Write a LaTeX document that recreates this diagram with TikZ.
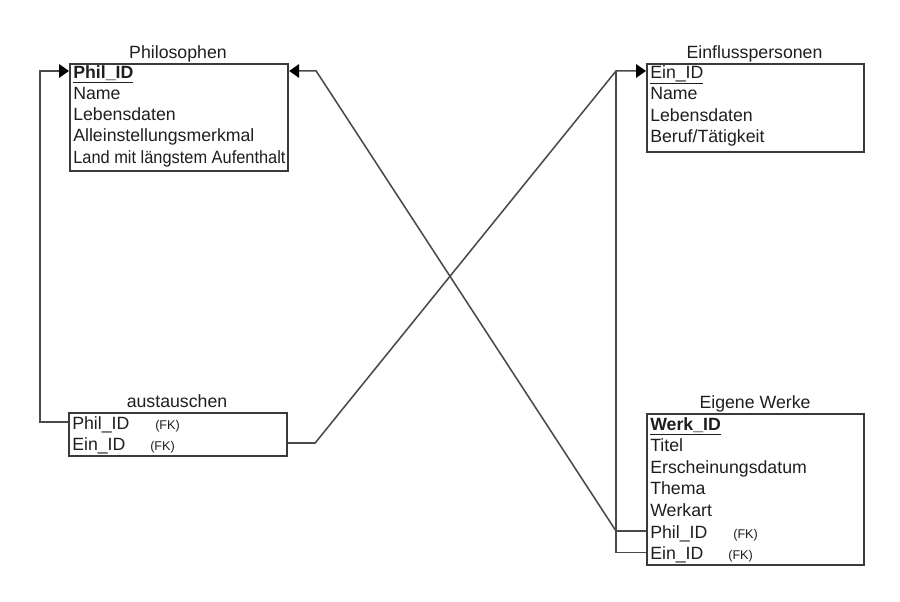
\documentclass[tikz,border=0pt]{standalone}
\usepackage{fontspec}
\setmainfont{Liberation Sans}
\usetikzlibrary{arrows.meta,positioning}
\definecolor{boxline}{HTML}{3A3A3A}
\definecolor{linkline}{HTML}{4A4A4A}
\definecolor{ink}{HTML}{1E1E1E}

\begin{document}
\begin{tikzpicture}[x=0.025cm,y=-0.025cm,
  tbl/.style={draw=boxline,line width=1.5pt,anchor=north west,inner sep=0pt},
  ttl/.style={anchor=base,font=\fontsize{12.6}{14}\selectfont,text=ink,inner sep=0pt},
  attr/.style={anchor=base west,font=\fontsize{12.6}{14}\selectfont,text=ink,inner sep=0pt,text height=10pt,text depth=0pt},
  fk/.style={anchor=base west,font=\fontsize{9}{10}\selectfont,text=ink,inner sep=0pt},
  link/.style={draw=linkline,line width=1.1pt},
  fklink/.style={link,-{Triangle[length=7pt,width=9.5pt,color=black]}}]
  \useasboundingbox (0,0) rectangle (900,601);

  % tables
  \node[tbl,minimum width=5.45cm,minimum height=2.675cm] (phil) at (69,63) {};
  \node[ttl] (phil-t) at (178,58) {Philosophen};
  \node[attr] (phil-id) at (73,78) {\textbf{\underline{Phil\_ID}}};
  \node[attr] (phil-name) at (73,99.3) {Name};
  \node[attr] (phil-leb) at (73,120.6) {Lebensdaten};
  \node[attr] (phil-merk) at (73,141.9) {Alleinstellungsmerkmal};
  \node[attr] (phil-land) at (73,163.2) {\scalebox{0.925}[1]{Land mit längstem Aufenthalt}};

  \node[tbl,minimum width=5.425cm,minimum height=2.2cm] (ein) at (646,63) {};
  \node[ttl] (ein-t) at (754.5,58) {Einflusspersonen};
  \node[attr] (ein-id) at (650,78) {\underline{Ein\_ID}};
  \node[attr] (ein-name) at (650,99.5) {Name};
  \node[attr] (ein-leb) at (650,121) {Lebensdaten};
  \node[attr] (ein-beruf) at (650,142.5) {Beruf/Tätigkeit};

  \node[tbl,minimum width=5.45cm,minimum height=1.075cm] (aus) at (68,412) {};
  \node[ttl] (aus-t) at (177,407) {austauschen};
  \node[attr] (aus-phil) at (72,429) {Phil\_ID};
  \node[fk] (aus-phil-fk) at (155,429) {(FK)};
  \node[attr] (aus-ein) at (72,450) {Ein\_ID};
  \node[fk] (aus-ein-fk) at (150,450) {(FK)};

  \node[tbl,minimum width=5.425cm,minimum height=3.775cm] (werk) at (646,413) {};
  \node[ttl] (werk-t) at (755,408) {Eigene Werke};
  \node[attr] (werk-id) at (650,430) {\textbf{\underline{Werk\_ID}}};
  \node[attr] (werk-titel) at (650,451.6) {Titel};
  \node[attr] (werk-datum) at (650,473.2) {Erscheinungsdatum};
  \node[attr] (werk-thema) at (650,494.8) {Thema};
  \node[attr] (werk-art) at (650,516.4) {Werkart};
  \node[attr] (werk-phil) at (650,538) {Phil\_ID};
  \node[fk] (werk-phil-fk) at (733,538) {(FK)};
  \node[attr] (werk-ein) at (650,559.6) {Ein\_ID};
  \node[fk] (werk-ein-fk) at (728,559.6) {(FK)};

  % bends
  \path (ein.west |- ein-id.west) ++(-30,0) coordinate (ein-bend);
  \path (werk.west |- werk-phil.west) ++(-30,0) coordinate (werk-bend);
  \path (phil.east |- phil-id.west) ++(27,0) coordinate (phil-bend);
  \path (aus.east |- aus-ein.west) ++(27,0) coordinate (aus-bend);

  % relations
  \draw[fklink] (aus.west |- aus-phil.west) -- ++(-28,0) |- (phil.west |- phil-id.west);
  \draw[fklink] (aus.east |- aus-ein.west) -- (aus-bend) -- (ein-bend) -- (ein.west |- ein-id.west);
  \draw[link] (werk.west |- werk-ein.west) -| (ein-bend);
  \draw[fklink] (werk.west |- werk-phil.west) -- (werk-bend) -- (phil-bend) -- (phil.east |- phil-id.west);
\end{tikzpicture}
\end{document}
